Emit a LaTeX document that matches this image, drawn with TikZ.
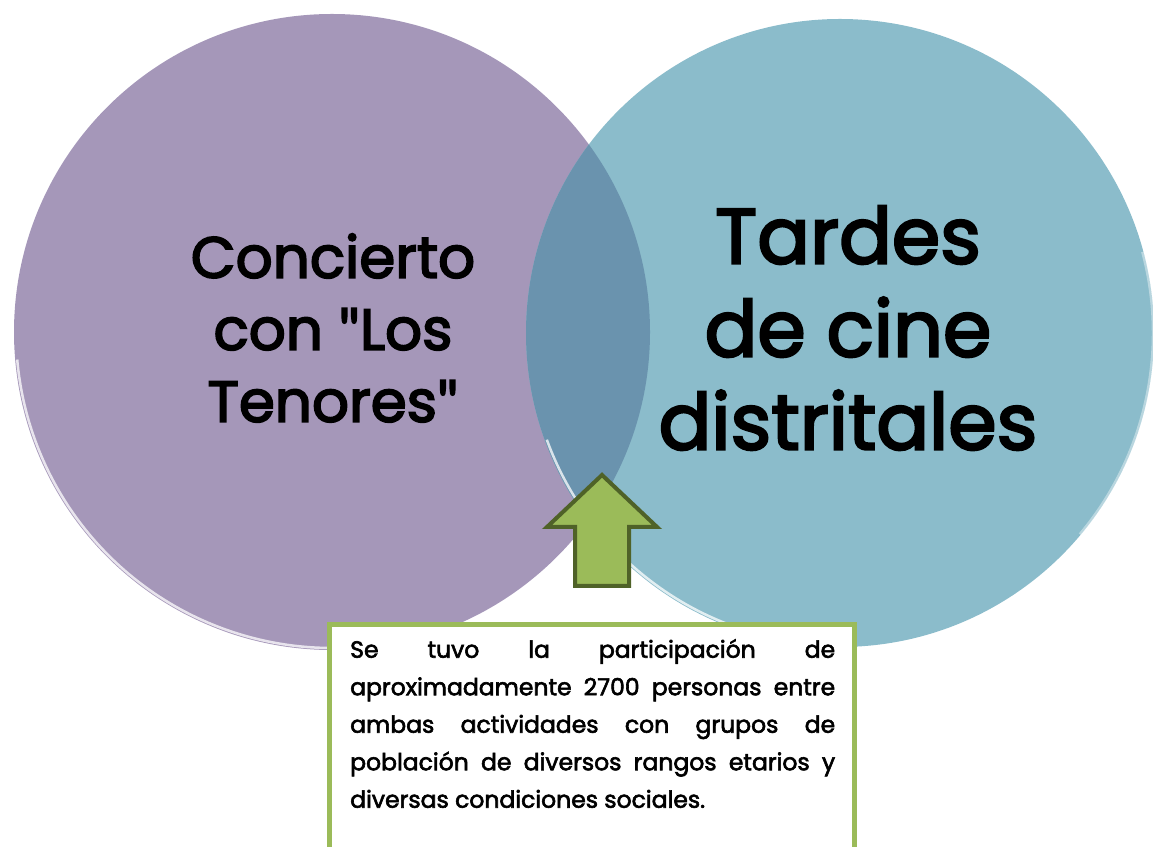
\documentclass[tikz,border=0pt]{standalone}
\usepackage{fontspec}
\setmainfont{Poppins}
\newfontfamily\gruesa{Poppins}[FakeBold=3]
\newfontfamily\media{Poppins}[FakeBold=2.5]
\newfontfamily\comillas{Lato}[FakeBold=3]
\newcommand{\cmd}{{\comillas"}}
\definecolor{lila}{HTML}{A597B9}
\definecolor{celeste}{HTML}{8BBCCB}
\definecolor{cruce}{HTML}{6A93AE}
\definecolor{verde}{HTML}{9BBB59}
\definecolor{verdeosc}{HTML}{4F6228}
\begin{document}
\begin{tikzpicture}[x=1pt, y=1pt,
	conjunto/.style={circle, inner sep=0pt, minimum size=#1},
	titulo/.style={align=center, inner sep=0pt, text=black},
	brillo/.style={white, line width=2.5pt, opacity=0.75}]
	\useasboundingbox (0,0) rectangle (1153,846);
	\node[conjunto=636pt, fill=lila] (concierto) at (332,514) {};
	\node[conjunto=628pt, fill=celeste] (cine) at (840,513) {};
	\begin{scope}
		\clip (concierto.center) circle (318);
		\fill[cruce] (cine.center) circle (314);
	\end{scope}
	\draw[brillo] ([shift={(185:316)}]concierto.center) arc (185:285:316);
	\draw[brillo] ([shift={(200:312)}]cine.center) arc (200:250:312);
	\draw[brillo, opacity=0.4] ([shift={(-40:313)}]cine.center) arc (-40:15:313);
	\node[titulo, font=\gruesa\fontsize{58}{72}\selectfont] (txtconcierto) at (333,518) {Concierto\\con \cmd Los\\Tenores\cmd};
	\node[titulo, font=\gruesa\fontsize{78}{93}\selectfont] (txtcine) at (848,518) {Tardes\\de cine\\distritales};
	\filldraw[fill=verde, draw=verdeosc, line width=4pt] (575,260) -- (575,319) -- (547,319) -- (602,371) -- (657,319) -- (629,319) -- (629,260) -- cycle;
	\draw[verde, line width=5pt, fill=white] (329.5,-10) rectangle (854.5,221.5);
	\node[anchor=north west, text width=485pt, align=justify, inner sep=0pt, font=\media\fontsize{23.5}{37.5}\selectfont] (nota) at (350,207) {Se tuvo la participación de\linebreak aproximadamente 2700 personas entre\linebreak ambas actividades con grupos de\linebreak población de diversos rangos etarios y\linebreak diversas condiciones sociales.};
\end{tikzpicture}
\end{document}
